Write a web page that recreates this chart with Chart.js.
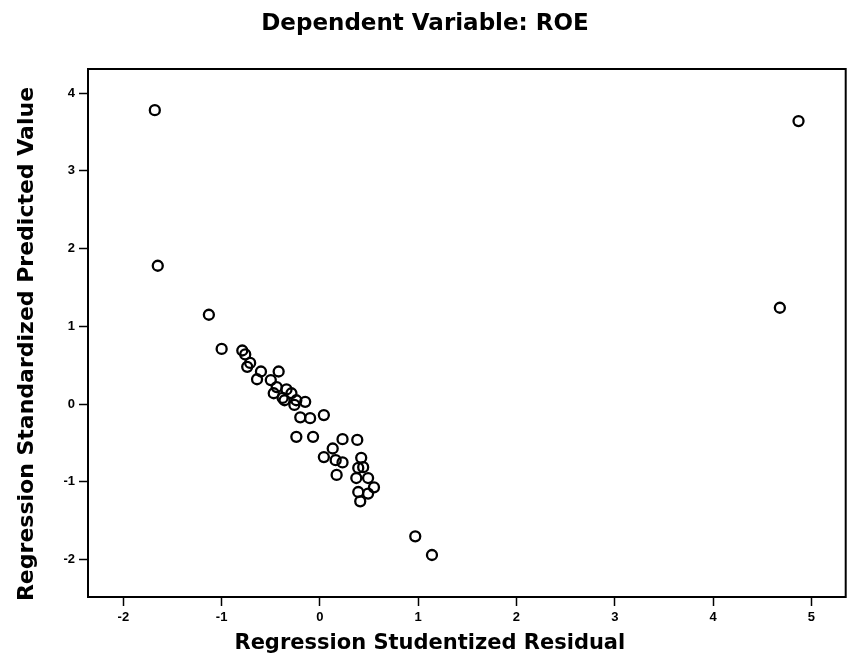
<!DOCTYPE html>
<html>
<head>
<meta charset="utf-8">
<script src="https://cdn.jsdelivr.net/npm/chart.js@4/dist/chart.umd.min.js"></script>
<style>
  html, body { margin: 0; padding: 0; background: #fff; }
  canvas { display: block; }
</style>
</head>
<body>
<canvas id="myChart" width="853" height="663"></canvas>
<script>
// residuos estudentizados (eixo x) e valores preditos padronizados (eixo y)
var residuos = [
  -1.68, -1.65, -1.13, -1.00, 4.87, 4.68, 0.97, 1.14,
  -0.79, -0.76, -0.71, -0.74, -0.60, -0.42, -0.64, -0.50,
  -0.44, -0.34, -0.47, -0.29, -0.36, -0.24, -0.15, -0.38,
  -0.26, -0.20, -0.10, 0.04, -0.24, -0.07, 0.23, 0.38,
  0.13, 0.04, 0.16, 0.23, 0.17, 0.42, 0.44, 0.39,
  0.37, 0.49, 0.55, 0.39, 0.49, 0.41
];
var preditos = [
  3.78, 1.78, 1.15, 0.71, 3.64, 1.24, -1.70, -1.94,
  0.69, 0.64, 0.53, 0.48, 0.42, 0.42, 0.32, 0.31,
  0.22, 0.19, 0.14, 0.14, 0.05, 0.05, 0.03, 0.08,
  -0.01, -0.17, -0.18, -0.14, -0.42, -0.42, -0.45, -0.46,
  -0.57, -0.68, -0.72, -0.75, -0.91, -0.69, -0.81, -0.82,
  -0.95, -0.95, -1.07, -1.13, -1.15, -1.25
];
var ticksX = [-2, -1, 0, 1, 2, 3, 4, 5];
var ticksY = [-2, -1, 0, 1, 2, 3, 4];

var pontos = residuos.map(function(x, i) { return { x: x, y: preditos[i] }; });

// moldura em volta da area do grafico
var moldura = {
  id: 'moldura',
  afterDatasetsDraw: function(chart) {
    var a = chart.chartArea, ctx = chart.ctx;
    ctx.save();
    ctx.strokeStyle = '#000';
    ctx.lineWidth = 2;
    ctx.strokeRect(a.left, a.top, a.right - a.left, a.bottom - a.top);
    ctx.restore();
  }
};

// no original os titulos dos eixos nao ficam centrados na area do grafico
var deslocaTitulos = {
  id: 'deslocaTitulos',
  afterLayout: function(chart) {
    var desloc = { x: [-37, 0], y: [0, 11] };
    Object.keys(desloc).forEach(function(id) {
      var s = chart.scales[id];
      if (!s || s._deslocado) return;
      var orig = s.drawTitle;
      s.drawTitle = function() {
        this.ctx.save();
        this.ctx.translate(desloc[id][0], desloc[id][1]);
        orig.apply(this, arguments);
        this.ctx.restore();
      };
      s._deslocado = true;
    });
  }
};

var fonte = "'DejaVu Sans', Arial, sans-serif";
var fonteTicks = "'Liberation Sans', Arial, sans-serif";

var ctx = document.getElementById('myChart').getContext('2d');
var myChart = new Chart(ctx, {
  type: 'scatter',
  data: {
    datasets: [{
      data: pontos,
      pointStyle: 'circle',
      pointRadius: 5,
      pointBorderWidth: 2.3,
      borderColor: '#000',
      backgroundColor: 'rgba(0,0,0,0)'
    }]
  },
  options: {
    responsive: false,
    animation: false,
    layout: { padding: { left: 0, right: 3, top: 0, bottom: 0 } },
    plugins: {
      legend: { display: false },
      tooltip: { enabled: false },
      title: {
        display: true,
        text: 'Dependent Variable: ROE',
        color: '#000',
        font: { family: fonte, size: 23, weight: 'bold' },
        padding: { top: 10, bottom: 31.4 }
      }
    },
    scales: {
      x: {
        type: 'linear',
        min: -2.36,
        max: 5.35,
        afterBuildTicks: function(scale) {
          scale.ticks = ticksX.map(function(v) { return { value: v }; });
        },
        afterFit: function(scale) { scale.height = 66; },
        grid: { drawOnChartArea: false, drawTicks: true, tickLength: 9, color: '#000', tickWidth: 1.5 },
        border: { display: true, color: '#000', width: 2 },
        ticks: {
          color: '#000',
          padding: 4,
          maxRotation: 0,
          font: { family: fonteTicks, size: 13, weight: 'bold' }
        },
        title: {
          display: true,
          text: 'Regression Studentized Residual',
          color: '#000',
          font: { family: fonte, size: 21, weight: 'bold' },
          padding: { top: 0, bottom: 7 }
        }
      },
      y: {
        type: 'linear',
        min: -2.48,
        max: 4.31,
        afterBuildTicks: function(scale) {
          scale.ticks = ticksY.map(function(v) { return { value: v }; });
        },
        afterFit: function(scale) { scale.width = 88; },
        grid: { drawOnChartArea: false, drawTicks: true, tickLength: 9, color: '#000', tickWidth: 1.5 },
        border: { display: true, color: '#000', width: 2 },
        ticks: {
          color: '#000',
          padding: 4,
          font: { family: fonteTicks, size: 13, weight: 'bold' }
        },
        title: {
          display: true,
          text: 'Regression Standardized Predicted Value',
          color: '#000',
          font: { family: fonte, size: 22, weight: 'bold' },
          padding: { top: 14.5, bottom: 0 }
        }
      }
    }
  },
  plugins: [moldura, deslocaTitulos]
});
</script>
</body>
</html>
